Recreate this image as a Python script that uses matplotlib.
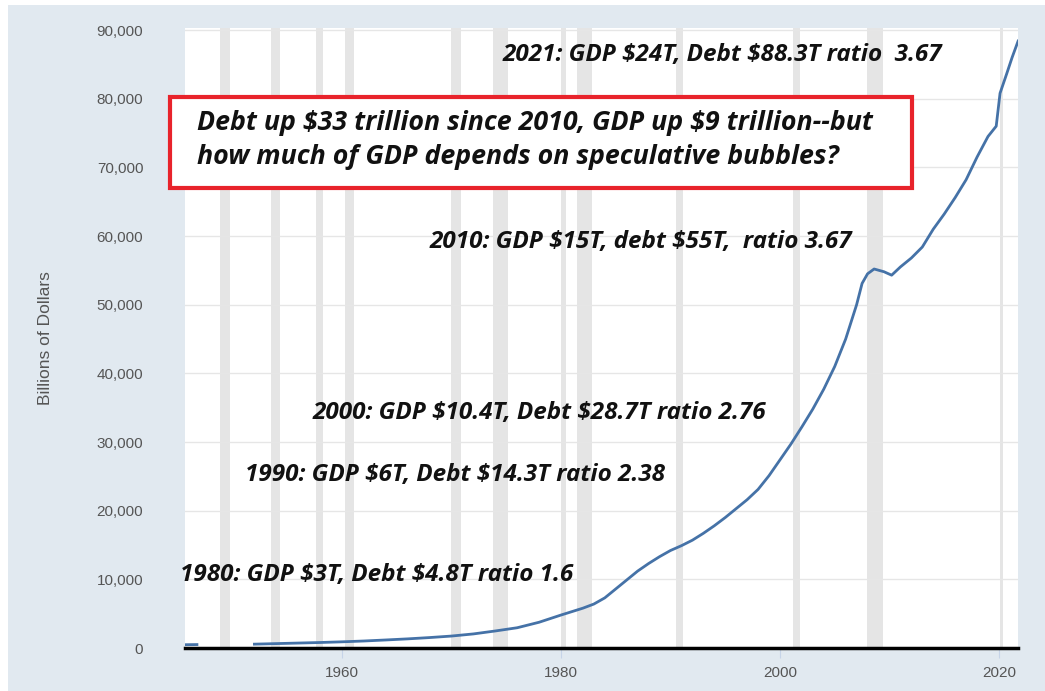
import matplotlib
matplotlib.use("Agg")
import matplotlib.pyplot as plt
from matplotlib.patches import Rectangle

# Total credit market debt, billions of dollars
early_years = [1945.75, 1946.75]
early_debt = [480, 500]

years = [1952, 1954, 1956, 1958, 1960, 1962, 1964, 1966, 1968, 1970,
         1972, 1974, 1976, 1978, 1980, 1982, 1983, 1984, 1985, 1986,
         1987, 1988, 1989, 1990, 1991, 1992, 1993, 1994, 1995, 1996,
         1997, 1998, 1999, 2000, 2001, 2002, 2003, 2004, 2005, 2006,
         2007, 2007.5, 2008, 2008.6, 2009.5, 2010.2, 2011, 2012, 2013, 2014,
         2015, 2016, 2017, 2018, 2019, 2019.75, 2020.1, 2020.7, 2021.2, 2021.75]
debt = [560, 640, 720, 800, 900, 1020, 1170, 1330, 1520, 1740,
        2050, 2480, 2950, 3750, 4800, 5800, 6400, 7300, 8600, 9900,
        11200, 12300, 13300, 14200, 14900, 15700, 16700, 17800, 19000, 20300,
        21600, 23100, 25100, 27400, 29700, 32200, 34800, 37700, 41000, 45000,
        50000, 53100, 54500, 55200, 54800, 54300, 55500, 56800, 58400, 61000,
        63200, 65600, 68200, 71500, 74500, 76000, 80800, 83600, 86000, 88400]

# NBER recessions
recessions = [(1948.83, 1949.75), (1953.5, 1954.33), (1957.58, 1958.25),
              (1960.25, 1961.08), (1969.92, 1970.83), (1973.83, 1975.17),
              (1980.0, 1980.5), (1981.5, 1982.83), (1990.5, 1991.17),
              (2001.17, 2001.83), (2007.92, 2009.42), (2020.08, 2020.33)]

notes = [
    (1974.7, 86300, "2021: GDP $24T, Debt $88.3T ratio  3.67"),
    (1968.0, 59100, "2010: GDP $15T, debt $55T,  ratio 3.67"),
    (1957.3, 34200, "2000: GDP $10.4T, Debt $28.7T ratio 2.76"),
    (1951.1, 25200, "1990: GDP $6T, Debt $14.3T ratio 2.38"),
    (1945.2, 10600, "1980: GDP $3T, Debt $4.8T ratio 1.6"),
]
box_text = ("Debt up $33 trillion since 2010, GDP up $9 trillion--but\n"
            "how much of GDP depends on speculative bubbles?")

fig = plt.figure(figsize=(10.45, 6.91), dpi=100, facecolor="white")
fig.patches.append(Rectangle((8 / 1045, 0), 1, 1 - 5 / 691, transform=fig.transFigure,
                             facecolor="#e1e9f0", edgecolor="none", zorder=-10))
ax = fig.add_axes([185 / 1045, 43 / 691, 833 / 1045, 620 / 691])
ax.set_facecolor("white")

for a, b in recessions:
    ax.axvspan(a, b, color="#e5e5e5", lw=0, zorder=0)

ax.plot(early_years, early_debt, color="#4572a7", lw=2.0, zorder=3)
ax.plot(years, debt, color="#4572a7", lw=2.0, zorder=3)

ax.set_xlim(1945.66, 2021.74)
ax.set_ylim(0, 90300)
ax.set_yticks(range(0, 90001, 10000))
ax.set_yticklabels([f"{v:,}" for v in range(0, 90001, 10000)])
ax.set_xticks([1960, 1980, 2000, 2020])
ax.grid(axis="y", color="#e6e6e6", lw=1, zorder=1)
ax.set_axisbelow(True)

for s in ["top", "right", "left"]:
    ax.spines[s].set_visible(False)
ax.spines["bottom"].set_color("black")
ax.spines["bottom"].set_linewidth(2.5)
ax.spines["bottom"].set_zorder(4)

ax.tick_params(axis="y", length=0, pad=30, labelsize=11, labelcolor="#555555")
ax.tick_params(axis="x", length=7, width=0.8, color="#c6d4e8", pad=6,
               labelsize=11, labelcolor="#555555")
for lab in ax.get_xticklabels() + ax.get_yticklabels():
    lab.set_family("Liberation Sans")

ax.set_ylabel("Billions of Dollars", fontsize=12.5, color="#555555",
              family="Liberation Sans")
ax.yaxis.set_label_coords(-0.158, 0.5)

for x, y, t in notes:
    ax.text(x, y, t, fontsize=17.5, family="Open Sans", weight="bold", style="italic",
            color="#111111", va="center", ha="left", zorder=5, parse_math=False)

fig.patches.append(Rectangle((170 / 1045, 1 - 188 / 691), 742 / 1045, 91 / 691,
                             transform=fig.transFigure, facecolor="white",
                             edgecolor="#e8232b", lw=3, zorder=5))
fig.text(197 / 1045, 1 - 140 / 691, box_text, fontsize=19.3, family="Open Sans",
         weight="bold", style="italic", color="#111111", va="center", ha="left",
         linespacing=1.4, zorder=6, parse_math=False)

plt.savefig("out.png", dpi=100, facecolor=fig.get_facecolor())
